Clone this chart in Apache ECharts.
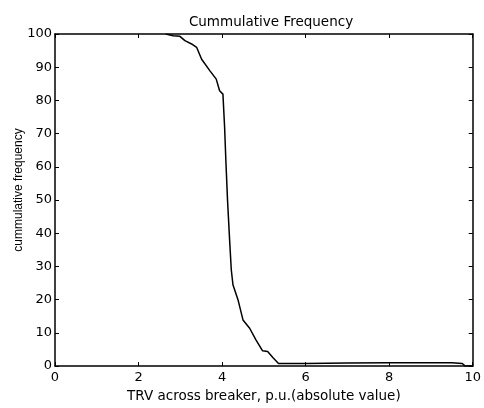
<!DOCTYPE html>
<html>
<head>
<meta charset="utf-8">
<script src="https://cdn.jsdelivr.net/npm/echarts@6/dist/echarts.min.js"></script>
<style>
  html, body { margin: 0; padding: 0; background: #fff; }
  #chart { width: 484px; height: 408px; }
</style>
</head>
<body>
<div id="chart"></div>
<script>
// TRV across breaker (p.u.) and the share of cases at or above it (%)
const trvValues = [2.65, 2.83, 2.99, 3.11, 3.27, 3.39, 3.51, 3.71, 3.86, 3.94, 4.02, 4.06, 4.09, 4.13, 4.18, 4.22,
  4.26, 4.38, 4.50, 4.66, 4.81, 4.97, 5.09, 5.22, 5.35, 6.0, 7.0, 8.0, 9.0, 9.5, 9.75, 9.82, 10]
const cumFreq = [100, 99.5, 99.3, 98, 97, 96, 92.4, 88.9, 86.4, 82.9, 81.9, 72, 62, 50, 38, 29,
  24.5, 20, 13.9, 11.4, 7.9, 4.6, 4.4, 2.5, 0.8, 0.8, 0.9, 1.0, 1.0, 1.0, 0.8, 0, 0]

const xTicks = [0, 2, 4, 6, 8, 10]
const yTicks = [0, 10, 20, 30, 40, 50, 60, 70, 80, 90, 100]

const chart = echarts.init(document.getElementById('chart'))

const tickFont = { color: '#000', fontFamily: 'DejaVu Sans', fontSize: 13 }
const frameLine = { show: true, onZero: false, lineStyle: { color: '#000', width: 1.5 } }
const innerTick = { show: true, inside: true, length: 4, lineStyle: { color: '#000', width: 1 } }

// MATLAB-style box: every side gets a line with ticks pointing inward
function boxAxis(base, ticks, position, withLabels) {
  return Object.assign({
    type: 'value',
    position: position,
    min: ticks[0],
    max: ticks[ticks.length - 1],
    interval: ticks[1] - ticks[0],
    axisLine: frameLine,
    axisTick: innerTick,
    splitLine: { show: false },
    axisLabel: withLabels ? Object.assign({}, tickFont) : { show: false }
  }, base)
}

chart.setOption({
  animation: false,
  backgroundColor: '#fff',
  title: {
    text: 'Cummulative Frequency',
    left: 266,
    top: 10,
    textAlign: 'center',
    textStyle: { color: '#000', fontFamily: 'DejaVu Sans', fontSize: 13.5, fontWeight: 'normal' }
  },
  grid: { left: 55, right: 9, top: 34, bottom: 41 },
  xAxis: [
    boxAxis({
      name: 'TRV across breaker, p.u.(absolute value)',
      nameLocation: 'middle',
      nameGap: 22,
      nameTextStyle: { color: '#000', fontFamily: 'DejaVu Sans', fontSize: 13.5 },
      axisLabel: Object.assign({ margin: 5 }, tickFont)
    }, xTicks, 'bottom', true),
    boxAxis({}, xTicks, 'top', false)
  ],
  yAxis: [
    boxAxis({ axisLabel: Object.assign({ margin: 3 }, tickFont) }, yTicks, 'left', true),
    boxAxis({}, yTicks, 'right', false)
  ],
  graphic: [{
    type: 'text',
    x: 19,
    y: 190,
    rotation: Math.PI / 2,
    style: {
      text: 'cummulative frequency',
      fill: '#000',
      font: '12px "Liberation Sans"',
      textAlign: 'center',
      textVerticalAlign: 'middle'
    }
  }],
  series: [{
    type: 'line',
    xAxisIndex: 0,
    yAxisIndex: 0,
    showSymbol: false,
    lineStyle: { color: '#000', width: 1.5 },
    data: trvValues.map((x, i) => [x, cumFreq[i]])
  }]
})
</script>
</body>
</html>
